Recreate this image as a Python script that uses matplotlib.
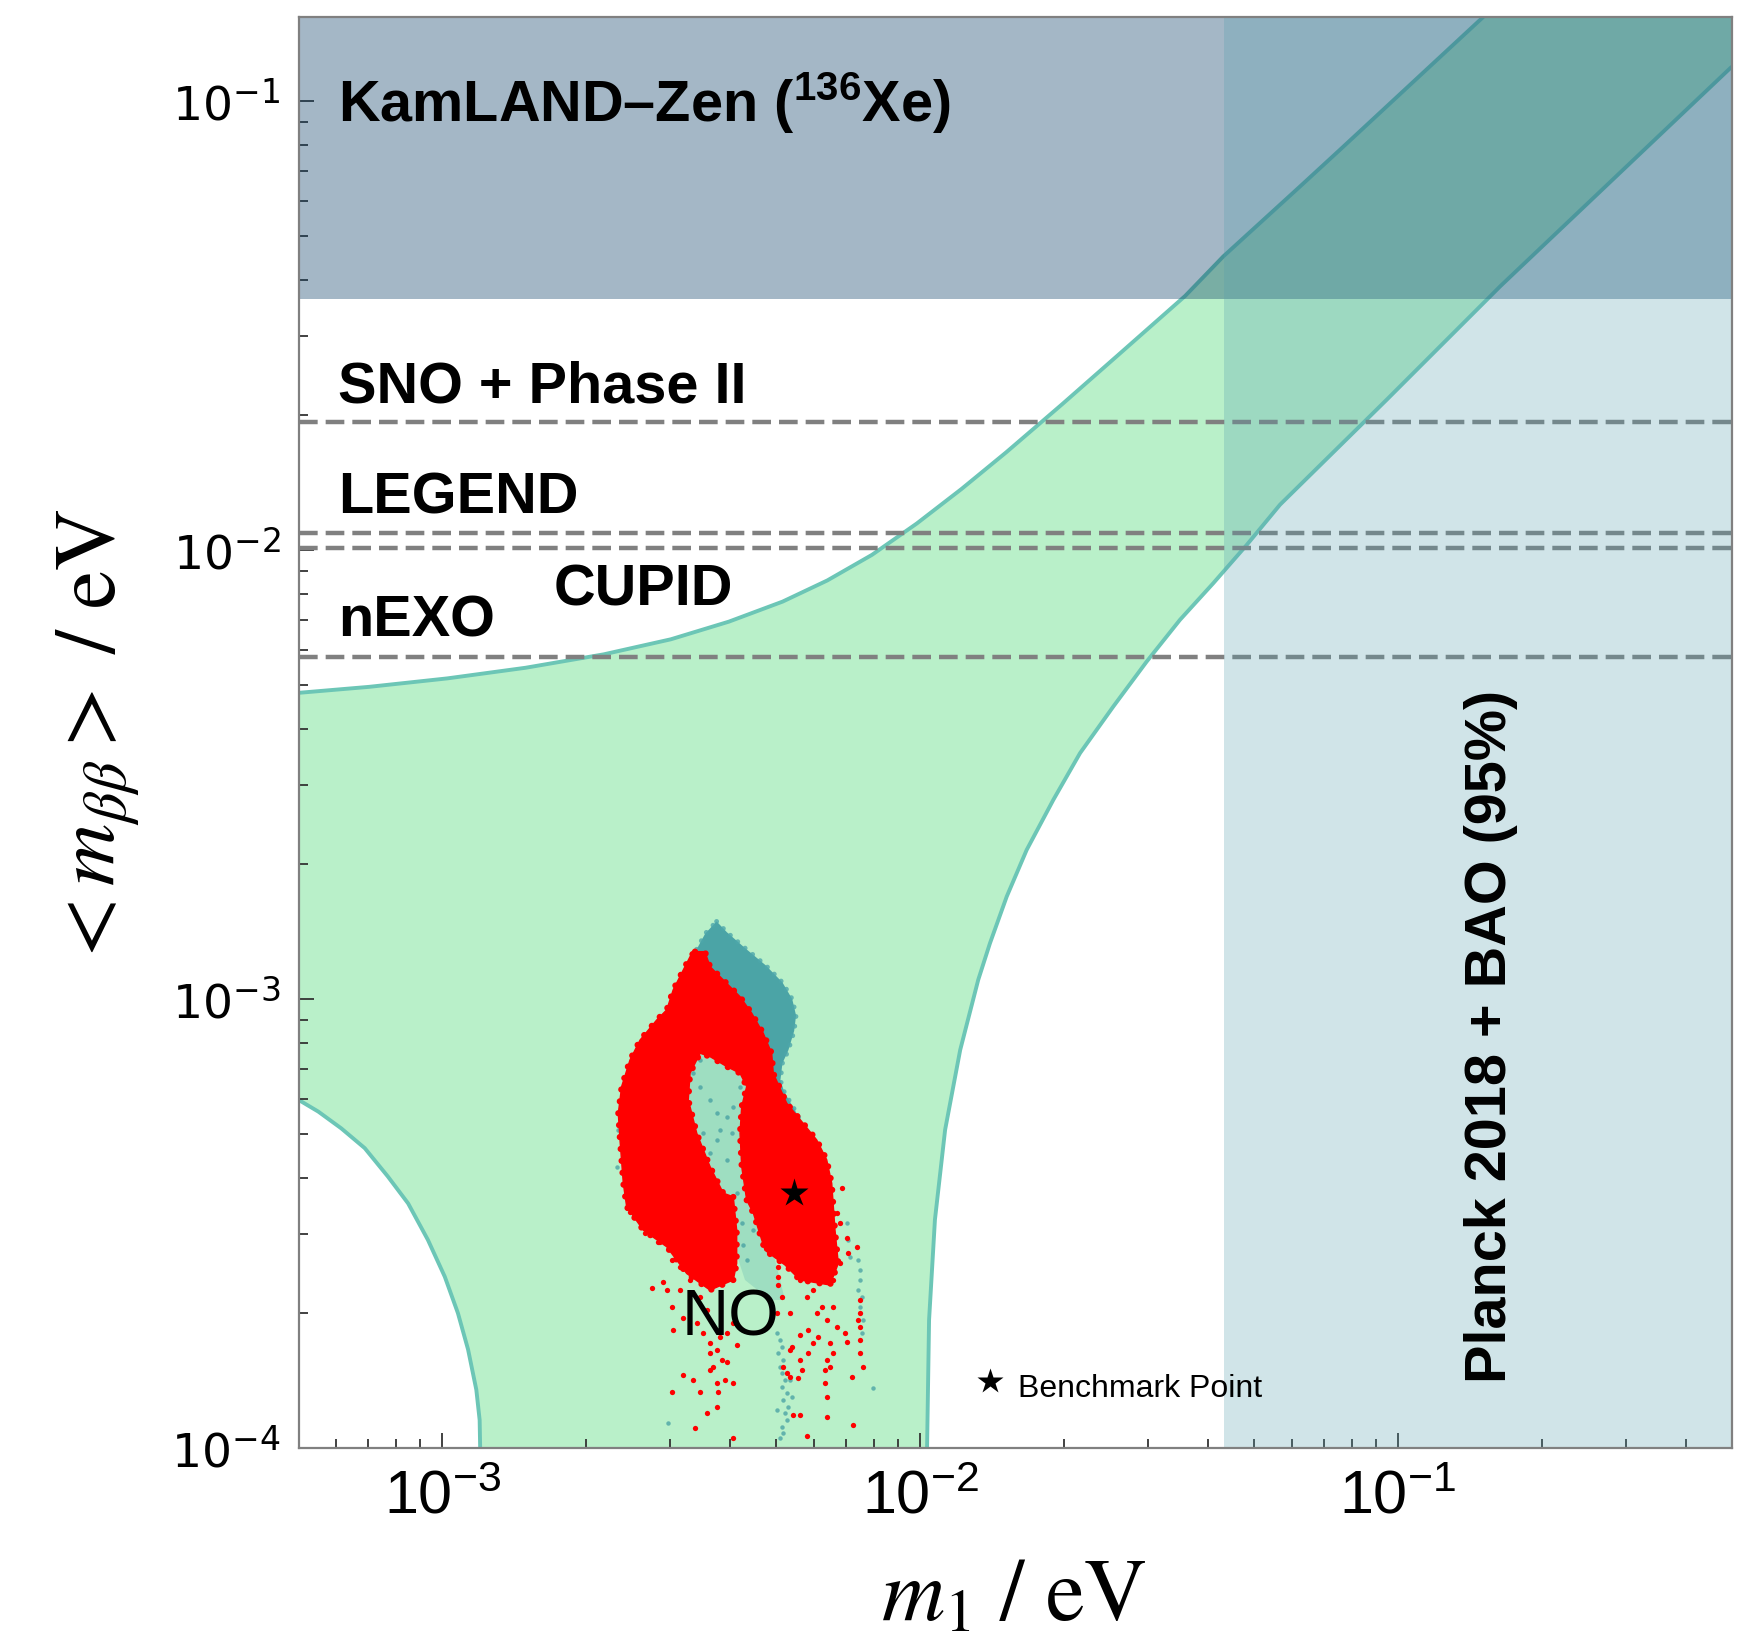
import numpy as np
import matplotlib
matplotlib.use('Agg')
import matplotlib.pyplot as plt
from matplotlib.ticker import LogLocator, FuncFormatter, NullFormatter

plt.rcParams['mathtext.fontset'] = 'custom'
plt.rcParams['mathtext.rm'] = 'Liberation Sans'
plt.rcParams['mathtext.it'] = 'Liberation Sans:italic'
plt.rcParams['mathtext.bf'] = 'Liberation Sans:bold'
plt.rcParams['font.family'] = ['Liberation Sans', 'DejaVu Sans']

# ---------------- data ----------------
XMIN, XMAX = 5e-4, 0.5
YMIN, YMAX = 1e-4, 0.154

# NO 3-sigma band: upper boundary
up_m1 = [5.0e-4, 7.02e-4, 1.024e-3, 1.493e-3, 2.177e-3, 3.008e-3, 3.979e-3, 5.155e-3,
         6.394e-3, 7.929e-3, 9.838e-3, 1.2206e-2, 1.514e-2, 1.982e-2, 2.596e-2,
         3.585e-2, 4.310e-2, 6.239e-2, 7.564e-2, 0.151]
up_mbb = [4.81e-3, 4.96e-3, 5.18e-3, 5.47e-3, 5.86e-3, 6.33e-3, 6.93e-3, 7.68e-3,
          8.56e-3, 9.76e-3, 1.146e-2, 1.368e-2, 1.651e-2, 2.112e-2, 2.718e-2,
          3.679e-2, 4.507e-2, 6.452e-2, 7.789e-2, 0.154]
# lower-right boundary (bottom -> top)
lr_m1 = [1.034e-2, 1.044e-2, 1.074e-2, 1.128e-2, 1.213e-2, 1.323e-2, 1.400e-2,
         1.518e-2, 1.671e-2, 1.900e-2, 2.161e-2, 2.537e-2, 2.980e-2, 3.498e-2,
         4.108e-2, 4.826e-2, 5.664e-2, 9.473e-2, 0.1462, 0.1636, 0.5]
lr_mbb = [1.0e-4, 1.93e-4, 3.23e-4, 5.12e-4, 7.71e-4, 1.104e-3, 1.332e-3,
          1.693e-3, 2.150e-3, 2.779e-3, 3.531e-3, 4.485e-3, 5.648e-3, 6.995e-3,
          8.441e-3, 1.027e-2, 1.262e-2, 2.162e-2, 3.429e-2, 3.865e-2, 0.1193]
# lower-left boundary (left edge -> bottom)
ll_m1 = [5.0e-4, 5.5e-4, 6.14e-4, 6.88e-4, 7.69e-4, 8.48e-4, 9.33e-4, 1.012e-3,
         1.078e-3, 1.132e-3, 1.178e-3, 1.197e-3, 1.20e-3]
ll_mbb = [5.97e-4, 5.62e-4, 5.16e-4, 4.66e-4, 4.03e-4, 3.51e-4, 2.91e-4, 2.41e-4,
          2.00e-4, 1.66e-4, 1.35e-4, 1.156e-4, 1.0e-4]

# experimental sensitivities / bounds
sens_names = ['SNO + Phase II', 'LEGEND', 'CUPID', 'nEXO']
sens_values = [0.0193, 0.0109, 0.0101, 0.00577]
kamland_bound = 0.0363
planck_m1_bound = 0.0432

# benchmark point
bench_m1, bench_mbb = 5.44e-3, 3.70e-4

# dense teal cloud outline
teal_m1 = [3.75e-3, 3.94e-3, 4.30e-3, 4.75e-3, 5.15e-3, 5.40e-3, 5.50e-3, 5.45e-3,
           5.30e-3, 5.15e-3, 5.10e-3, 5.20e-3, 5.45e-3, 5.60e-3, 5.20e-3, 4.6e-3,
           4.1e-3, 3.7e-3, 3.3e-3, 3.05e-3, 3.1e-3, 3.35e-3, 3.55e-3]
teal_mbb = [1.49e-3, 1.41e-3, 1.30e-3, 1.19e-3, 1.09e-3, 1.00e-3, 9.2e-4, 8.5e-4,
            7.7e-4, 7.2e-4, 6.6e-4, 6.2e-4, 5.7e-4, 5.4e-4, 5.6e-4, 6.8e-4,
            7.2e-4, 7.6e-4, 8.0e-4, 9.0e-4, 1.05e-3, 1.25e-3, 1.40e-3]
# sparse teal region between the red lobes
gap_m1 = [3.463e-3, 4.406e-3, 4.623e-3, 4.623e-3, 4.969e-3, 5.213e-3, 4.851e-3,
          4.30e-3, 3.906e-3, 3.463e-3, 3.220e-3]
gap_mbb = [7.91e-4, 6.78e-4, 5.38e-4, 3.57e-4, 2.63e-4, 2.14e-4, 2.14e-4,
           2.37e-4, 3.23e-4, 4.62e-4, 6.28e-4]
# dense red cloud outline
red_m1 = [3.379e-3, 3.546e-3, 3.633e-3, 3.873e-3, 4.198e-3, 4.441e-3, 4.695e-3,
          4.89e-3, 4.928e-3, 5.256e-3, 5.694e-3, 6.075e-3, 6.375e-3, 6.531e-3,
          6.635e-3, 6.741e-3, 6.477e-3, 5.606e-3, 5.213e-3, 4.735e-3, 4.476e-3,
          4.335e-3, 4.232e-3, 4.198e-3, 4.232e-3, 4.335e-3, 4.198e-3, 3.937e-3,
          3.633e-3, 3.463e-3, 3.300e-3, 3.272e-3, 3.408e-3, 3.633e-3, 3.873e-3,
          4.064e-3, 4.131e-3, 4.131e-3, 4.064e-3, 3.633e-3, 3.247e-3, 2.949e-3,
          2.634e-3, 2.431e-3, 2.392e-3, 2.354e-3, 2.335e-3, 2.373e-3, 2.470e-3,
          2.593e-3, 2.81e-3, 2.949e-3, 3.042e-3, 3.194e-3, 3.300e-3]
red_mbb = [1.276e-3, 1.276e-3, 1.182e-3, 1.104e-3, 1.013e-3, 9.31e-4, 8.40e-4,
           7.58e-4, 6.84e-4, 5.87e-4, 5.29e-4, 4.86e-4, 4.39e-4, 3.89e-4,
           3.06e-4, 2.58e-4, 2.31e-4, 2.37e-4, 2.56e-4, 2.76e-4, 3.34e-4,
           3.57e-4, 4.24e-4, 5.03e-4, 5.77e-4, 6.39e-4, 6.84e-4, 7.08e-4,
           7.45e-4, 7.58e-4, 6.84e-4, 5.97e-4, 5.03e-4, 4.24e-4, 3.70e-4,
           3.63e-4, 3.06e-4, 2.58e-4, 2.37e-4, 2.25e-4, 2.45e-4, 2.81e-4,
           3.06e-4, 3.45e-4, 3.89e-4, 4.86e-4, 5.57e-4, 6.39e-4, 7.32e-4,
           8.11e-4, 8.99e-4, 9.47e-4, 1.049e-3, 1.162e-3, 1.244e-3]

# sparse red points (log10 m1, log10 mbb)
red_log_m1 = [-2.5583, -2.5758, -2.5479, -2.5932, -2.6072, -2.5304, -2.5199, -2.5025,
              -2.5374, -2.5618, -2.5304, -2.5199, -2.5164, -2.4955, -2.4676, -2.4606,
              -2.4466, -2.4397, -2.4397, -2.4327, -2.4152, -2.4048, -2.3838, -2.4955,
              -2.4746, -2.4606, -2.4397, -2.4257, -2.4222, -2.4083, -2.3908, -2.5199,
              -2.4466, -2.4257, -2.4711, -2.3908, -2.4815, -2.5025, -2.4048, -2.4187,
              -2.3908, -2.4536, -2.4257,
              -2.3070, -2.3105, -2.3001, -2.2966, -2.2966, -2.2966, -2.3001, -2.2896,
              -2.2721, -2.2686, -2.2512, -2.2338, -2.2128, -2.2233, -2.2338, -2.2477,
              -2.2547, -2.2721, -2.2512, -2.2652, -2.2372, -2.1989, -2.1954, -2.1954,
              -2.1989, -2.1570, -2.1535, -2.1430, -2.1395, -2.1186, -2.1256, -2.1256,
              -2.1256, -2.1256, -2.1256, -2.1291, -2.1325, -2.1500, -2.1535, -2.1674,
              -2.1640, -2.1744, -2.1814, -2.1884, -2.1954, -2.1884, -2.2791, -2.2861,
              -2.2512, -2.2721,
              -2.2372, -2.2338, -2.2372, -2.2233, -2.2093, -2.2058, -2.1954, -2.1814,
              -2.1814, -2.1744, -2.1884, -2.2512, -2.2652, -2.2163, -2.1674]
red_log_mbb = [-3.5026, -3.5211, -3.5397, -3.4877, -3.4729, -3.5137, -3.5805, -3.5953,
               -3.6287, -3.6436, -3.6473, -3.6844, -3.7363, -3.7103, -3.7215, -3.6621,
               -3.6918, -3.7660, -3.7882, -3.8179, -3.8031, -3.8068, -3.7697, -3.8365,
               -3.8476, -3.8736, -3.8253, -3.8550, -3.8736, -3.8476, -3.8550, -3.8736,
               -3.9218, -3.9070, -3.9552, -3.9775, -3.6250, -3.6473, -3.7437, -3.7511,
               -3.7215, -3.7437, -3.7808,
               -3.4989, -3.5211, -3.5508, -3.5953, -3.6176, -3.6361, -3.6992, -3.6621,
               -3.6992, -3.7734, -3.7474, -3.7363, -3.7511, -3.7660, -3.7882, -3.8253,
               -3.8439, -3.8402, -3.9255, -3.9255, -3.9737, -3.8550, -3.8847, -3.9292,
               -3.8253, -3.7437, -3.7623, -3.8402, -3.9478, -3.8179, -3.7882, -3.7586,
               -3.7289, -3.6992, -3.6695, -3.7140, -3.5508, -3.5656, -3.5323, -3.4989,
               -3.4210, -3.4766, -3.7882, -3.7660, -3.8031, -3.8179, -3.8328, -3.8179,
               -3.8031, -3.7808,
               -3.5953, -3.6250, -3.6621, -3.6473, -3.6102, -3.6844, -3.7140, -3.6250,
               -3.6844, -3.7289, -3.5879, -3.6250, -3.5953, -3.6992, -3.5879]

# sparse teal points (log10 m1, log10 mbb)
teal_log_m1 = [-2.3001, -2.2931, -2.2896, -2.2966, -2.2861, -2.2931, -2.2896, -2.2826,
               -2.2896, -2.2791, -2.2861, -2.2756, -2.2826, -2.2791, -2.2896, -2.2861,
               -2.2931, -2.2686, -2.3001, -2.2721, -2.0976, -2.5269, -2.3699, -2.3629,
               -2.3489, -2.3454, -2.3559, -2.3734, -2.3838, -2.4885, -2.1535, -2.1500,
               -2.1465, -2.1291, -2.1256, -2.1256, -2.1291, -2.1221, -2.1256, -2.1186,
               -2.1221, -2.4746, -2.4606, -2.4397, -2.4257, -2.4048, -2.3908, -2.4536,
               -2.4187, -2.3770, -2.4606, -2.4257, -2.4397, -2.4048, -2.3943, -2.4955,
               -2.6316, -2.6351]
teal_log_mbb = [-3.7437, -3.7586, -3.7734, -3.7882, -3.8031, -3.8179, -3.8328, -3.8476,
                -3.8624, -3.8773, -3.8921, -3.9070, -3.9218, -3.9366, -3.9515, -3.9663,
                -3.9775, -3.8847, -3.9144, -3.8476, -3.8661, -3.9441, -3.5471, -3.5805,
                -3.5137, -3.4766, -3.4469, -3.4989, -3.4321, -3.5805, -3.4989, -3.5360,
                -3.5731, -3.5805, -3.6027, -3.6250, -3.6473, -3.6621, -3.6844, -3.7140,
                -3.7437, -3.1648, -3.1945, -3.2242, -3.2539, -3.2614, -3.2391, -3.2985,
                -3.2910, -3.1945, -3.1352, -3.3133, -3.3430, -3.3579, -3.2985, -3.1500,
                -3.2910, -3.3727]

# ---------------- figure ----------------
fig = plt.figure(figsize=(17.53, 16.34), dpi=100)
ax = fig.add_axes([0.17028, 0.11365, 0.81768, 0.87607])
ax.set_xscale('log')
ax.set_yscale('log')

GREEN = '#b9f0c9'
EDGE = '#6cc6b6'

band_x = list(up_m1) + [XMAX] + list(lr_m1[::-1]) + list(ll_m1[::-1])
band_y = list(up_mbb) + [YMAX] + list(lr_mbb[::-1]) + list(ll_mbb[::-1])
ax.fill(band_x, band_y, color=GREEN, lw=0, zorder=1)
for xs, ys in [(up_m1, up_mbb), (lr_m1, lr_mbb), (ll_m1, ll_mbb)]:
    ax.plot(xs, ys, color=EDGE, lw=2.8, zorder=1.5, solid_capstyle='butt')

# scatter clouds
ax.fill(gap_m1, gap_mbb, color='#3f9fa5', alpha=0.22, lw=0, zorder=2.2)
ax.fill(teal_m1, teal_mbb, color='#45a0a5', alpha=0.95, lw=0, zorder=2.3)
ax.plot(teal_m1 + teal_m1[:1], teal_mbb + teal_mbb[:1], color='#4da7ab', lw=3.5,
        linestyle=(0, (0.01, 2.0)), dash_capstyle='round', alpha=0.8, zorder=2.3)
ax.plot(10 ** np.array(teal_log_m1), 10 ** np.array(teal_log_mbb), 'o', ms=3.2,
        color='#3d9aa0', alpha=0.7, mec='none', zorder=2.4)
ax.fill(red_m1, red_mbb, facecolor='#ff0000', edgecolor='#ff0000', lw=1.0, zorder=2.6)
ax.plot(red_m1 + red_m1[:1], red_mbb + red_mbb[:1], color='#ff0000', lw=4.5,
        linestyle=(0, (0.01, 1.9)), dash_capstyle='round', zorder=2.6)
ax.plot(10 ** np.array(red_log_m1), 10 ** np.array(red_log_mbb), 'o', ms=3.8,
        color='#ff0000', mec='none', zorder=2.7)

# sensitivity lines
for v in sens_values:
    ax.axhline(v, color='#808080', lw=3.2, dashes=(4.2, 1.8), zorder=2.8)

# exclusion regions
ax.axhspan(kamland_bound, YMAX, color='#124469', alpha=0.38, lw=0, zorder=4)
ax.axvspan(planck_m1_bound, XMAX, color='#579fad', alpha=0.28, lw=0, zorder=5)

# benchmark star
ax.plot([bench_m1], [bench_mbb], marker='*', ms=21, color='black', mec='none', zorder=8)

ax.set_xlim(XMIN, XMAX)
ax.set_ylim(YMIN, YMAX)

# ticks
ax.xaxis.set_major_locator(LogLocator(base=10, numticks=10))
ax.yaxis.set_major_locator(LogLocator(base=10, numticks=10))
ax.xaxis.set_minor_locator(LogLocator(base=10, subs=np.arange(2, 10), numticks=100))
ax.yaxis.set_minor_locator(LogLocator(base=10, subs=np.arange(2, 10), numticks=100))
fmt = FuncFormatter(lambda v, p: r'$10^{%d}$' % int(round(np.log10(v))))
ax.xaxis.set_major_formatter(fmt)
ax.yaxis.set_major_formatter(fmt)
ax.xaxis.set_minor_formatter(NullFormatter())
ax.yaxis.set_minor_formatter(NullFormatter())
ax.tick_params(which='both', direction='in', top=False, right=False, color='#333333', width=1.3)
ax.tick_params(which='major', length=11)
ax.tick_params(which='minor', length=6.5)
ax.tick_params(axis='x', which='major', labelsize=44, pad=15)
ax.tick_params(axis='y', which='major', labelsize=34, pad=13)
for t in ax.yaxis.get_major_ticks():
    t.label1.set_math_fontfamily('dejavusans')
for s in ax.spines.values():
    s.set_color('#808080')
    s.set_linewidth(1.6)
    s.set_zorder(9)

# labels inside the plot
bold = dict(fontsize=41.5, fontweight='bold', color='black', zorder=10,
            transform=ax.transAxes, ha='left', va='baseline')
ax.text(0.0276, 0.9262, 'KamLAND\u2013Zen ($^{\\mathbf{136}}$Xe)', **bold)
ax.text(0.0276, 0.7303, sens_names[0], **bold)
ax.text(0.0276, 0.6527, sens_names[1], **bold)
ax.text(0.1782, 0.5891, sens_names[2], **bold)
ax.text(0.0276, 0.5670, sens_names[3], **bold)
ax.text(0.8424, 0.0456, 'Planck 2018 + BAO (95%)', rotation=90, rotation_mode='anchor', **bold)
ax.text(0.2676, 0.0785, 'NO', fontsize=47, color='black', transform=ax.transAxes,
        ha='left', va='baseline', zorder=10)
ax.plot([0.4824], [0.047], marker='*', ms=19, color='black', mec='none',
        transform=ax.transAxes, zorder=10, clip_on=False)
ax.text(0.502, 0.036, 'Benchmark Point', fontsize=23, color='black', transform=ax.transAxes,
        ha='left', va='baseline', zorder=10)

# axis labels
fig.text(0.5785, 0.0092, r'$m_1\ /\ \mathrm{eV}$', ha='center', va='baseline',
         fontsize=63, math_fontfamily='stix')
fig.text(0.0559, 0.548, r'$<m_{\beta\beta}>\ /\ \mathrm{eV}$', rotation=90,
         ha='center', va='center', fontsize=62, math_fontfamily='stix')

fig.savefig('out.png', dpi=100)
